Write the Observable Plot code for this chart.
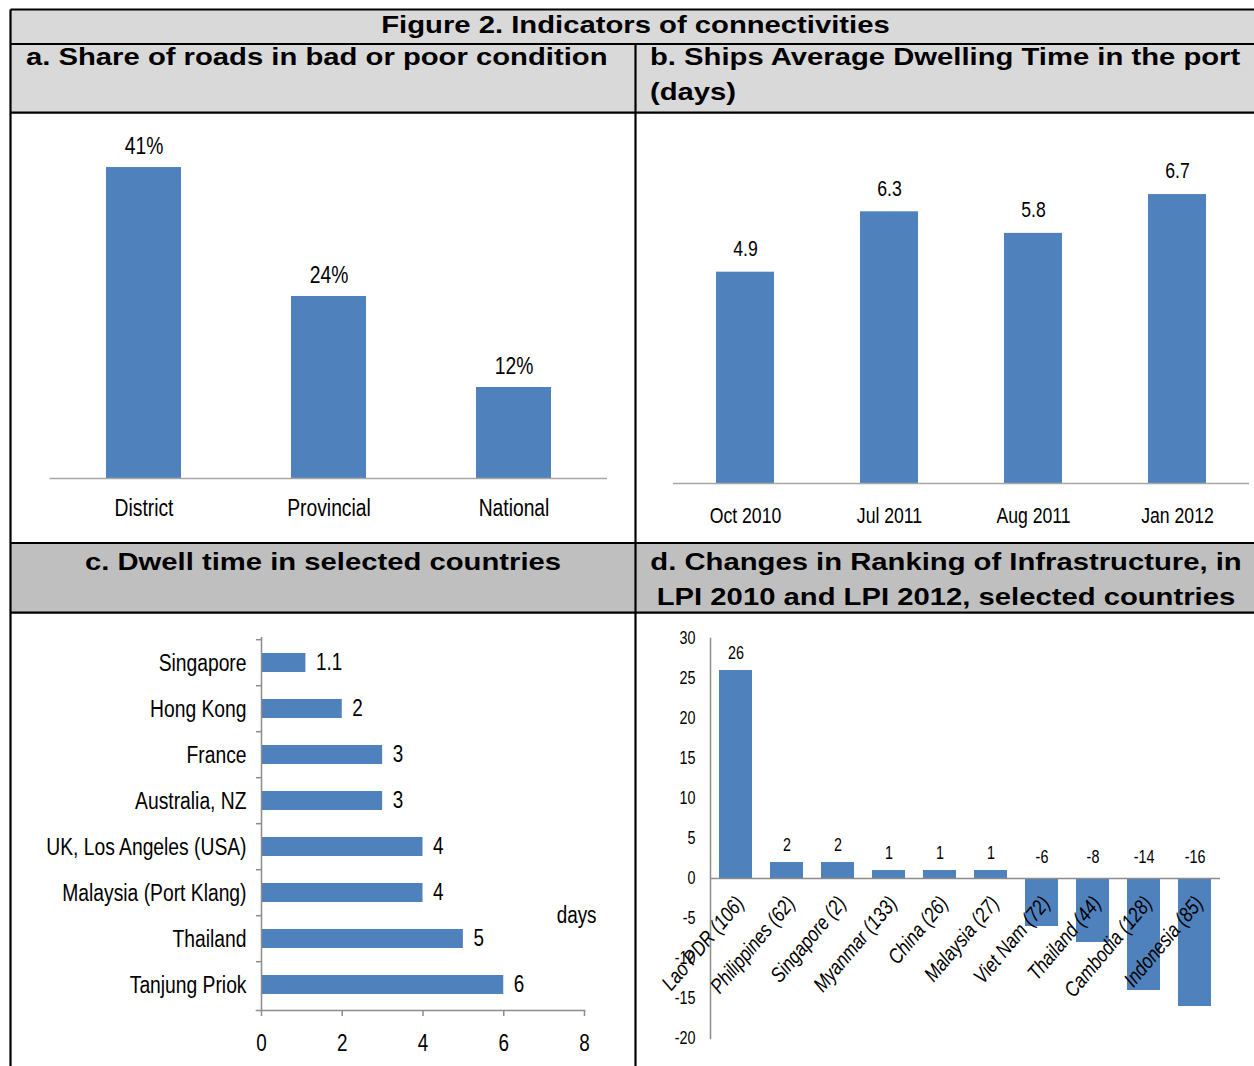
<!DOCTYPE html>
<html>
<head>
<meta charset="utf-8">
<script src="https://cdn.jsdelivr.net/npm/d3@7"></script>
<script src="https://cdn.jsdelivr.net/npm/@observablehq/plot@0.6"></script>
<style>
  html, body { margin: 0; padding: 0; background: #fff; }
  #page { position: relative; width: 1254px; height: 1066px; overflow: hidden; }
  .panel { position: absolute; }
  .panel svg { display: block; overflow: visible; }
</style>
</head>
<body>
<div id="page"></div>
<script>
// ---- Figure text ----
const figureTitle = "Figure 2. Indicators of connectivities";
const titleA = ["a. Share of roads in bad or poor condition"];
const titleB = ["b. Ships Average Dwelling Time in the port", "(days)"];
const titleC = ["c. Dwell time in selected countries"];
const titleD = ["d. Changes in Ranking of Infrastructure, in", "LPI 2010 and LPI 2012, selected countries"];

// ---- a. Share of roads in bad or poor condition (%) ----
const roadCategories = ["District", "Provincial", "National"];
const roadShares = [41, 24, 12];

// ---- b. Ships average dwelling time in the port (days) ----
const dwellPeriods = ["Oct 2010", "Jul 2011", "Aug 2011", "Jan 2012"];
const dwellDays = [4.9, 6.3, 5.8, 6.7];

// ---- c. Dwell time in selected countries (days) ----
const ports = ["Singapore", "Hong Kong", "France", "Australia, NZ",
  "UK, Los Angeles (USA)", "Malaysia (Port Klang)", "Thailand", "Tanjung Priok"];
const portDays = [1.1, 2, 3, 3, 4, 4, 5, 6];
const portTicks = [0, 2, 4, 6, 8];

// ---- d. Change in LPI infrastructure ranking, 2010 to 2012 ----
const lpiCountries = ["Lao PDR (106)", "Philippines (62)", "Singapore (2)", "Myanmar (133)",
  "China (26)", "Malaysia (27)", "Viet Nam (72)", "Thailand (44)", "Cambodia (128)", "Indonesia (85)"];
const lpiChange = [26, 2, 2, 1, 1, 1, -6, -8, -14, -16];
const lpiTicks = [-20, -15, -10, -5, 0, 5, 10, 15, 20, 25, 30];

// ---- shared styling ----
const BLUE = "#4f81bd";
const AXIS_GRAY = "#8c8c8c";
const BASE_GRAY = "#a6a6a6";
const SANS = "'Liberation Sans', Arial, sans-serif";
const NARROW_FACTOR = 0.82; // condensed lettering, as in a narrow sans face

const W = 1254, H = 1066;
const page = d3.select("#page");

// ---- table grid and header cells ----
const grid = page.append("svg")
  .attr("width", W).attr("height", H)
  .style("position", "absolute").style("left", 0).style("top", 0);

const L = 10.5, R = 1256, T = 9.5, MID = 635.5;
const yTitle = 44, yHeadAB = 112.7, yChartAB = 543, yHeadCD = 612.7;

grid.append("rect").attr("x", L).attr("y", T).attr("width", R - L).attr("height", yHeadAB - T).attr("fill", "#d9d9d9");
grid.append("rect").attr("x", L).attr("y", yChartAB).attr("width", R - L).attr("height", yHeadCD - yChartAB).attr("fill", "#bfbfbf");

const rules = [
  [L, T, R, T], [L, T, L, H + 5],
  [L, yTitle, R, yTitle], [L, yHeadAB, R, yHeadAB],
  [L, yChartAB, R, yChartAB], [L, yHeadCD, R, yHeadCD],
  [MID, yTitle, MID, H + 5], [R, T, R, H + 5]
];
grid.selectAll("line.cell").data(rules).join("line")
  .attr("x1", d => d[0]).attr("y1", d => d[1]).attr("x2", d => d[2]).attr("y2", d => d[3])
  .attr("stroke", "#000").attr("stroke-width", 2.2);

function header(lines, x, y, anchor) {
  lines.forEach((line, i) => {
    grid.append("g")
      .attr("transform", `translate(${x},${y + i * 34.5}) scale(1.245,1)`)
      .append("text")
      .attr("text-anchor", anchor)
      .attr("font-family", SANS).attr("font-weight", "bold").attr("font-size", 23.5)
      .attr("fill", "#000")
      .text(line);
  });
}
header([figureTitle], 635.5, 33, "middle");
header(titleA, 26, 65, "start");
header(titleB, 650, 65, "start");
header(titleC, 323, 570, "middle");
header(titleD, 946, 570, "middle");

// Mount a chart and condense its lettering horizontally.
function place(svg, left, top) {
  page.append("div").attr("class", "panel")
    .style("left", left + "px").style("top", top + "px")
    .node().appendChild(svg);
  svg.querySelectorAll("text").forEach(t => {
    const len = t.getComputedTextLength();
    if (len > 0) {
      t.setAttribute("textLength", (len * NARROW_FACTOR).toFixed(2));
      t.setAttribute("lengthAdjust", "spacingAndGlyphs");
    }
  });
}

const baseStyle = size => ({
  fontFamily: SANS, fontSize: size + "px", color: "#000",
  background: "none", overflow: "visible"
});

// ---- a. roads ----
const roads = roadCategories.map((category, i) => ({category, share: roadShares[i]}));
place(Plot.plot({
  width: 623, height: 428,
  marginLeft: 38.6, marginRight: 27, marginTop: 22.7, marginBottom: 64,
  style: baseStyle(23.5),
  x: {domain: roadCategories, paddingInner: 0.596, paddingOuter: 0.298, label: null},
  y: {domain: [0, 45], axis: null, label: null},
  marks: [
    Plot.barY(roads, {x: "category", y: "share", fill: BLUE}),
    Plot.ruleY([0], {stroke: BASE_GRAY, strokeWidth: 1.6}),
    Plot.text(roads, {x: "category", y: "share", text: d => `${d.share}%`, dy: -21, fontSize: 23.5}),
    Plot.axisX({tickSize: 0, tickPadding: 20.6, fontSize: 23.5, label: null})
  ]
}), 11, 114);

// ---- b. dwelling time in the port ----
const dwell = dwellPeriods.map((period, i) => ({period, days: dwellDays[i]}));
place(Plot.plot({
  width: 617, height: 428,
  marginLeft: 36, marginRight: 5, marginTop: 24, marginBottom: 59,
  style: baseStyle(21.5),
  x: {domain: dwellPeriods, paddingInner: 0.597, paddingOuter: 0.2985, label: null},
  y: {domain: [0, 8], axis: null, label: null},
  marks: [
    Plot.barY(dwell, {x: "period", y: "days", fill: BLUE}),
    Plot.ruleY([0], {stroke: BASE_GRAY, strokeWidth: 1.6}),
    Plot.text(dwell, {x: "period", y: "days", text: d => d.days.toFixed(1), dy: -23, fontSize: 21.5}),
    Plot.axisX({tickSize: 0, tickPadding: 24, fontSize: 21.5, label: null})
  ]
}), 637, 114);

// ---- c. dwell time by country ----
const portRows = ports.map((port, i) => ({port, days: portDays[i]}));
const portStep = (451 - 22 - 56) / ports.length;
place(Plot.plot({
  width: 623, height: 451,
  marginLeft: 250, marginRight: 50, marginTop: 22, marginBottom: 56,
  style: baseStyle(23),
  x: {domain: [0, 8], label: null},
  y: {domain: ports, paddingInner: 0.59, paddingOuter: 0.295, label: null},
  marks: [
    Plot.barX(portRows, {y: "port", x: "days", fill: BLUE}),
    Plot.ruleX([0], {stroke: AXIS_GRAY, strokeWidth: 1.5}),
    Plot.frame({anchor: "bottom", stroke: AXIS_GRAY, strokeWidth: 1.5, insetLeft: -5}),
    Plot.axisX({ticks: portTicks, tickSize: 6, tickPadding: 18, stroke: AXIS_GRAY, strokeWidth: 1.5,
      tickFormat: d => String(d), fontSize: 23, label: null}),
    Plot.axisY({tickSize: 5, tickFormat: () => "", dy: -portStep / 2, stroke: AXIS_GRAY, strokeWidth: 1.5, label: null}),
    Plot.axisY({tickSize: 0, tickPadding: 15, fontSize: 23.5, label: null}),
    Plot.text(portRows, {y: "port", x: "days", text: d => String(d.days), textAnchor: "start", dx: 10, fontSize: 23}),
    Plot.text(["days"], {frameAnchor: "right", text: d => d, textAnchor: "end", dx: 12, dy: 91.5, fontSize: 23})
  ]
}), 11, 615);

// ---- d. LPI infrastructure ranking change ----
const lpiRows = lpiCountries.map((country, i) => ({country, change: lpiChange[i]}));
place(Plot.plot({
  width: 617, height: 451,
  marginLeft: 73, marginRight: 34, marginTop: 23, marginBottom: 28,
  style: baseStyle(17),
  x: {domain: lpiCountries, paddingInner: 0.36, paddingOuter: 0.18, axis: null, label: null},
  y: {domain: [-20, 30], label: null},
  marks: [
    Plot.barY(lpiRows, {x: "country", y: "change", fill: BLUE}),
    Plot.ruleY([0], {stroke: AXIS_GRAY, strokeWidth: 1.5}),
    Plot.frame({anchor: "left", stroke: AXIS_GRAY, strokeWidth: 1.5}),
    Plot.axisY({ticks: lpiTicks, tickSize: 0, tickPadding: 15, tickFormat: d => String(d), fontSize: 17.5, label: null}),
    Plot.text(lpiRows.filter(d => d.change >= 0), {x: "country", y: "change", text: d => String(d.change), dy: -17, fontSize: 17.5}),
    Plot.text(lpiRows.filter(d => d.change < 0), {x: "country", y: () => 0, text: d => String(d.change), dy: -21, fontSize: 17.5}),
    Plot.text(lpiRows, {x: "country", y: () => 0, text: "country", rotate: -50, textAnchor: "end",
      dx: 4, dy: 21, fontStyle: "italic", fontSize: 21})
  ]
}), 637, 615);
</script>
</body>
</html>
